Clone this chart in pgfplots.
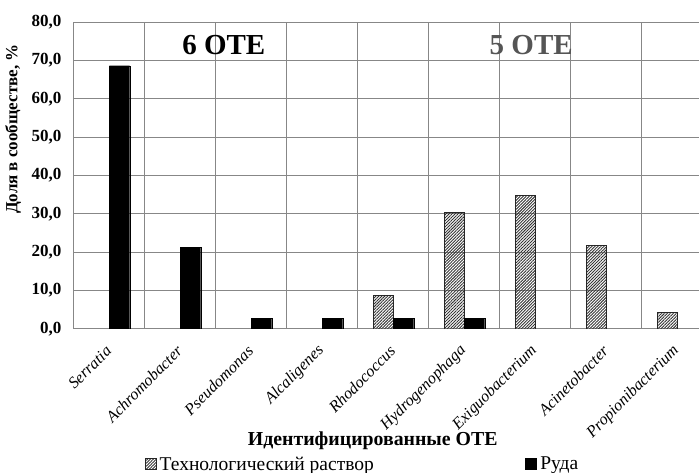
\documentclass[border=0pt]{standalone}
\usepackage{fontspec}
\setmainfont{Liberation Serif}
\usepackage{pgfplots}
\pgfplotsset{compat=1.18}
\usetikzlibrary{patterns.meta}
\definecolor{gridgray}{RGB}{135,135,135}
\definecolor{titlegray}{RGB}{85,85,85}
\tikzset{hatchfill/.style={pattern={Lines[angle=45,distance=2.1pt,line width=0.9pt]}, pattern color=black!80, draw=black!85, line width=0.7pt}}
\begin{document}
\begin{tikzpicture}
\begin{axis}[
  at={(0,0)}, anchor=south west,
  scale only axis, width=625pt, height=307pt,
  xmin=-0.5, xmax=8.303, ymin=0, ymax=80,
  ytick={0,10,...,80},
  xtick={0,...,8},
  xticklabels={Serratia,Achromobacter,Pseudomonas,Alcaligenes,Rhodococcus,Hydrogenophaga,Exiguobacterium,Acinetobacter,Propionibacterium},
  minor xtick={-0.5,0.5,...,8.5},
  ymajorgrids, xminorgrids,
  major grid style={gridgray, line width=1pt},
  minor grid style={gridgray, line width=1pt},
  axis line style={draw=none},
  major tick length=0pt, minor tick length=0pt,
  ybar=0pt, bar width=0.285,
  yticklabel style={font=\fontsize{17}{19}\selectfont\bfseries, xshift=-9pt, /pgf/number format/.cd, fixed, fixed zerofill, precision=1, use comma, assume math mode=true},
  xticklabel style={font=\fontsize{16.2}{18}\selectfont\itshape, xshift=1.5pt, yshift=-17pt, rotate=45, anchor=east},
  ylabel={Доля в сообществе, \%},
  ylabel style={font=\fontsize{17}{19}\selectfont\bfseries, at={(axis description cs:-0.0976,0.651)}, anchor=center},
  xlabel={Идентифицированные ОТЕ},
  xlabel style={font=\fontsize{19.8}{22}\selectfont\bfseries, at={(axis description cs:0.478,-0.365)}, anchor=center},
  legend columns=2,
  legend style={draw=none, fill=none, at={(axis description cs:0.113,-0.44)}, anchor=west,
    font=\fontsize{19.5}{21}\selectfont, inner sep=0pt,
    nodes={inner xsep=3.5pt},
    /tikz/every even column/.append style={column sep=148pt}},
  legend image code/.code={\draw[#1, line width=0.4pt] (0pt,-5pt) rectangle (11pt,6pt);},
]
\addplot[hatchfill] coordinates {(4,8.8) (5,30.4) (6,34.8) (7,21.8) (8,4.4)};
\addlegendentry{Технологический раствор}
\addplot[fill=black, draw=black] coordinates {(0,68.6) (1,21.2) (2,2.8) (3,2.8) (4,2.8) (5,2.8)};
\addlegendentry{Руда}
\node[font=\fontsize{29}{31}\selectfont\bfseries, black] at (axis cs:1.61,74.0) {6 ОТЕ};
\node[font=\fontsize{29}{31}\selectfont\bfseries, titlegray] at (axis cs:5.94,74.0) {5 ОТЕ};
\end{axis}
\pgfresetboundingbox
\path (-74pt,-144pt) rectangle (625pt,329pt);
\end{tikzpicture}
\end{document}
